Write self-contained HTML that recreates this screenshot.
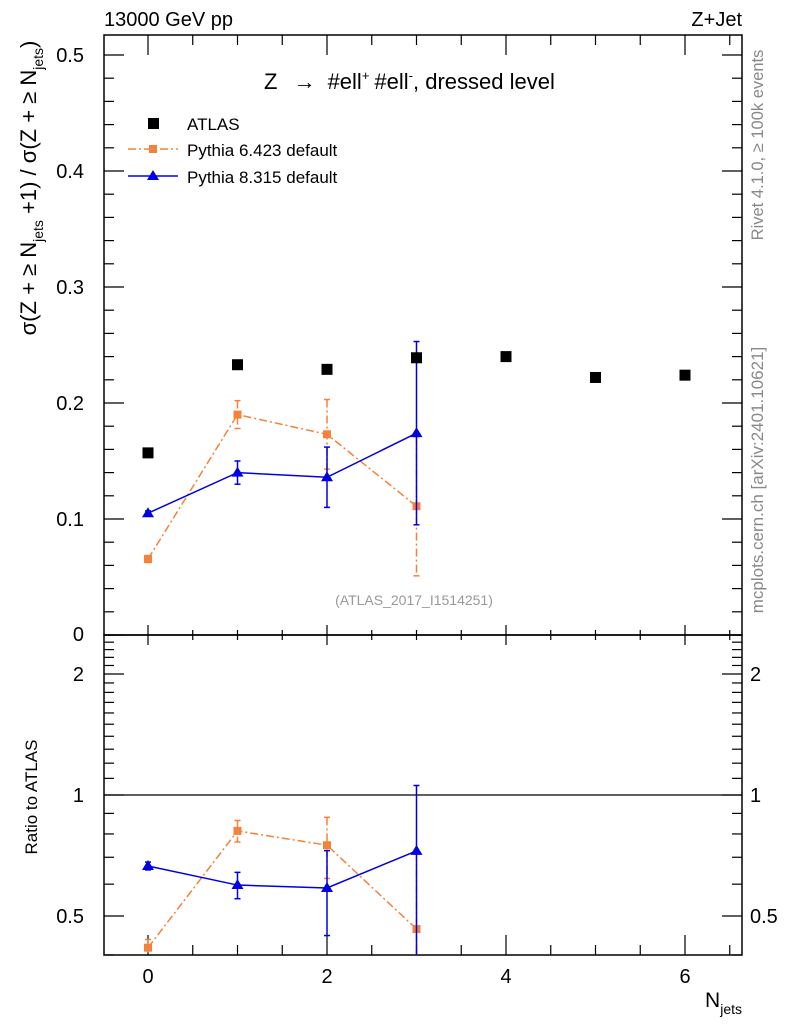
<!DOCTYPE html>
<html><head><meta charset="utf-8"><style>
body{margin:0;background:#fff}
svg{display:block;font-family:"Liberation Sans",Arial,sans-serif}
</style></head><body>
<svg id="c" width="786" height="1024" viewBox="0 0 786 1024" xmlns="http://www.w3.org/2000/svg">
<g id="g"></g>
</svg>
<script>
const categories=[0,1,2,3,4,5,6];
const atlasVals=[0.157,0.233,0.229,0.239,0.240,0.222,0.224];
const p6x=[0,1,2,3];
const p6Vals=[0.0655,0.190,0.173,0.111];
const p6Err=[0.003,0.012,0.030,0.060];
const p8x=[0,1,2,3];
const p8Vals=[0.105,0.140,0.136,0.174];
const p8Err=[0.002,0.010,0.026,0.079];
const p6Ratio=[0.417,0.814,0.75,0.464];
const p6RatioErr=[0.02,0.05,0.13,0.25];
const p8Ratio=[0.666,0.597,0.587,0.726];
const p8RatioErr=[0.015,0.045,0.14,0.33];
const yTicks=[0.1,0.2,0.3,0.4,0.5];
const xTicks=[0,2,4,6];
const rTicks=[0.5,1,2];

const NS="http://www.w3.org/2000/svg";
const G=document.getElementById('g');
const L=104,R=742,T=35,M=635,B=955;
const X=v=>148+(v)*89.5;
const Y=v=>M-v*1160;
const RY=v=>795-Math.log2(v)*121;
function el(t,a,p){const e=document.createElementNS(NS,t);for(const k in a)e.setAttribute(k,a[k]);(p||G).appendChild(e);return e;}
function txt(s,a){const e=el('text',a);e.textContent=s;return e;}

let f=el('rect',{x:L,y:T,width:R-L,height:M-T,fill:'none',stroke:'#000','stroke-width':1.5});


f=el('rect',{x:L,y:M,width:R-L,height:B-M,fill:'none',stroke:'#000','stroke-width':1.5});



for(let v=-0.5;v<=6.5;v+=0.5){
  const maj=Math.abs(v%2)<1e-6;const len=maj?20:10;const x=X(v);
  if(x<L||x>R)continue;
  el('line',{x1:x,x2:x,y1:B,y2:B-len,stroke:'#000','stroke-width':1.2});
  el('line',{x1:x,x2:x,y1:T,y2:T+len,stroke:'#000','stroke-width':1.2});
  el('line',{x1:x,x2:x,y1:M-len/2,y2:M+len/2,stroke:'#000','stroke-width':1.2});
}
xTicks.forEach(v=>{const t=txt(String(v),{x:X(v),y:983,'font-size':20,'text-anchor':'middle'});

});
for(let i=0;i<=26;i++){const v=i*0.02;const y=Y(v);if(y<T)continue;const maj=i%5===0;const len=maj?20:10;
  el('line',{x1:L,x2:L+len,y1:y,y2:y,stroke:'#000','stroke-width':1.2});
  el('line',{x1:R,x2:R-len,y1:y,y2:y,stroke:'#000','stroke-width':1.2});}
yTicks.forEach(v=>{const t=txt(v.toFixed(1),{x:84,y:Y(v)+7,'font-size':20,'text-anchor':'end'});

});
txt('0',{x:84,y:641,'font-size':20,'text-anchor':'end'});
[0.4,0.5,0.6,0.7,0.8,0.9,1,2].forEach(v=>{
  const y=RY(v);if(y<M||y>B)return;const maj=rTicks.includes(v);const len=maj?20:10;
  el('line',{x1:L,x2:L+len,y1:y,y2:y,stroke:'#000','stroke-width':1.2});
  el('line',{x1:R,x2:R-len,y1:y,y2:y,stroke:'#000','stroke-width':1.2});});
[1.1,1.2,1.3,1.4,1.5,1.6,1.7,1.8,1.9,2.1,2.2,2.3,2.4,2.5].forEach(v=>{
  const y=RY(v);if(y<M||y>B)return;
  el('line',{x1:L,x2:L+10,y1:y,y2:y,stroke:'#000','stroke-width':1.2});
  el('line',{x1:R,x2:R-10,y1:y,y2:y,stroke:'#000','stroke-width':1.2});});
rTicks.forEach(v=>{let t=txt(String(v),{x:84,y:RY(v)+7,'font-size':20,'text-anchor':'end'});


t=txt(String(v),{x:750,y:RY(v)+7,'font-size':20});

});
el('line',{x1:L,x2:R,y1:RY(1),y2:RY(1),stroke:'#000','stroke-width':1.3});

const cp=el('clipPath',{id:'cm'});el('rect',{x:L,y:T,width:R-L,height:M-T},cp);
const cr=el('clipPath',{id:'cr'});el('rect',{x:L,y:M,width:R-L,height:B-M},cr);
const gm=el('g',{'clip-path':'url(#cm)'});const gr=el('g',{'clip-path':'url(#cr)'});

function series(par,xs,vals,errs,yf,col,dash,marker,name){
  const pts=xs.map((x,i)=>X(x)+','+yf(vals[i])).join(' ');
  const pl=el('polyline',{points:pts,fill:'none',stroke:col,'stroke-width':1.5,'stroke-dasharray':dash||'none'},par);
  
  
  xs.forEach((x,i)=>{
    const cx=X(x);const lo=Math.max(vals[i]-errs[i],0.01);
    el('line',{x1:cx,x2:cx,y1:yf(vals[i]+errs[i]),y2:yf(lo),stroke:col,'stroke-width':1.5,'stroke-dasharray':dash||'none'},par);
    el('line',{x1:cx-3,x2:cx+3,y1:yf(vals[i]+errs[i]),y2:yf(vals[i]+errs[i]),stroke:col,'stroke-width':1.5},par);
    el('line',{x1:cx-3,x2:cx+3,y1:yf(lo),y2:yf(lo),stroke:col,'stroke-width':1.5},par);
    const cy=yf(vals[i]);let m;
    if(marker==='sq')m=el('rect',{x:cx-4,y:cy-4,width:8,height:8,fill:col},par);
    else m=el('polygon',{points:`${cx},${cy-6} ${cx-6},${cy+4} ${cx+6},${cy+4}`,fill:col},par);
    
    
  });
}
series(gm,p6x,p6Vals,p6Err,Y,'#f5823b','8,3,2,3','sq','pythia6');
series(gm,p8x,p8Vals,p8Err,Y,'#0000e6',null,'tri','pythia8');
series(gr,p6x,p6Ratio,p6RatioErr,RY,'#f5823b','8,3,2,3','sq','pythia6-ratio');
series(gr,p8x,p8Ratio,p8RatioErr,RY,'#0000e6',null,'tri','pythia8-ratio');
categories.forEach((c,i)=>{const m=el('rect',{x:X(c)-5.5,y:Y(atlasVals[i])-5.5,width:11,height:11,fill:'#000'},gm);

});

let lg=el('rect',{x:148,y:118,width:11,height:11,fill:'#000'});

el('line',{x1:128,x2:178,y1:149,y2:149,stroke:'#f5823b','stroke-width':1.5,'stroke-dasharray':'8,3,2,3'});
el('rect',{x:149,y:145,width:8,height:8,fill:'#f5823b'});
el('line',{x1:128,x2:178,y1:176,y2:176,stroke:'#0000e6','stroke-width':1.5});
el('polygon',{points:'153,170 147,180 159,180',fill:'#0000e6'});
[['ATLAS',130,'legend-atlas'],['Pythia 6.423 default',156,'legend-pythia6'],['Pythia 8.315 default',183,'legend-pythia8']].forEach(a=>{
  const t=txt(a[0],{x:187,y:a[1],'font-size':17});
  
  });
</script>
<div style="position:absolute;left:0;top:0;width:786px;height:1024px;pointer-events:none">
<svg width="786" height="1024" style="font-family:'Liberation Sans',Arial,sans-serif">
<text x="104" y="26" font-size="20">13000 GeV pp</text>
<text x="742" y="26" font-size="20" text-anchor="end">Z+Jet</text>
<text x="264" y="89" font-size="22">Z <tspan dx="10">→</tspan><tspan dx="12">#ell</tspan><tspan font-size="13" dy="-9">+</tspan><tspan dy="9" dx="5">#ell</tspan><tspan font-size="13" dy="-9">-</tspan><tspan dy="9">, dressed level</tspan></text>
<text x="414" y="605" font-size="14" fill="#999" text-anchor="middle">(ATLAS_2017_I1514251)</text>
<text transform="translate(36,188) rotate(-90)" font-size="22" text-anchor="middle">σ(Z + ≥ N<tspan font-size="14" dy="7">jets</tspan><tspan dy="-7"> +1) / σ(Z + ≥ N</tspan><tspan font-size="14" dy="7">jets</tspan><tspan dy="-7">)</tspan></text>
<text transform="translate(37,797) rotate(-90)" font-size="17" text-anchor="middle">Ratio to ATLAS</text>
<text x="742" y="1007" font-size="21" text-anchor="end">N<tspan font-size="14" dy="7">jets</tspan></text>
<text transform="translate(763,145) rotate(-90)" font-size="16.5" fill="#888" text-anchor="middle">Rivet 4.1.0, ≥ 100k events</text>
<text transform="translate(763,480) rotate(-90)" font-size="17" fill="#888" text-anchor="middle">mcplots.cern.ch [arXiv:2401.10621]</text>
</svg></div>
</body></html>
